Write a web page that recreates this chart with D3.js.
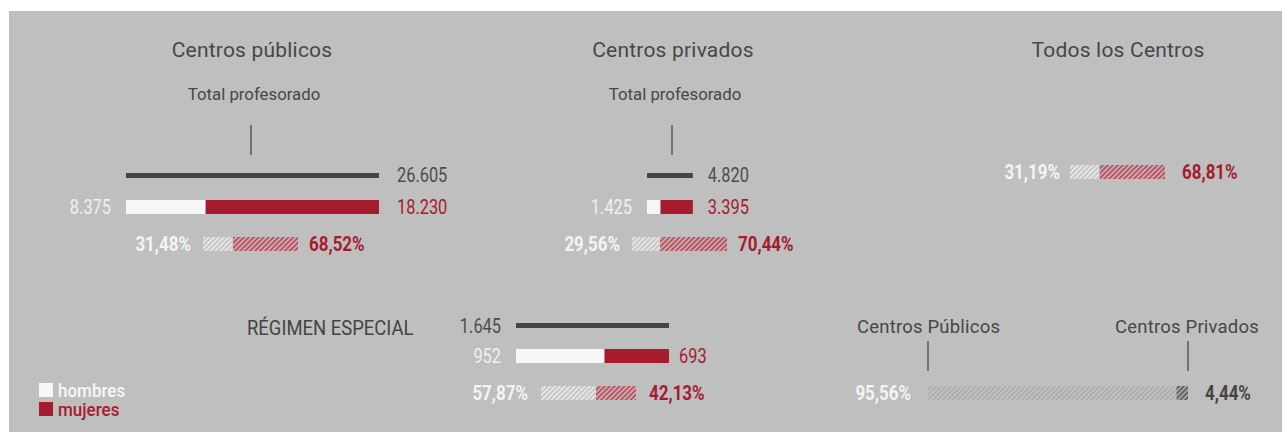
<!DOCTYPE html>
<html><head><meta charset="utf-8">
<script src="https://cdn.jsdelivr.net/npm/d3@7"></script>
<style>
html,body{margin:0;padding:0;background:#fff;}
svg{display:block;}
.title{font-family:Roboto,"Liberation Sans",sans-serif;fill:#474747;}
.num{font-family:Roboto,"Liberation Sans",sans-serif;}
</style></head>
<body>
<script>
// ---- data ----
const sectionTitles = ["Centros públicos", "Centros privados"];
const totals = [26605, 4820];
const hombres = [8375, 1425];
const mujeres = [18230, 3395];
const pctHombres = [31.48, 29.56];
const pctMujeres = [68.52, 70.44];
const todosTitle = "Todos los Centros";
const todosPct = [31.19, 68.81];
const especialTitle = "RÉGIMEN ESPECIAL";
const especialTotal = [1645];
const especialHombres = [952];
const especialMujeres = [693];
const especialPct = [57.87, 42.13];
const distribLabels = ["Centros Públicos", "Centros Privados"];
const distribPct = [95.56, 4.44];
const legendLabels = ["hombres", "mujeres"];
const subLabel = "Total profesorado";

// ---- setup ----
const W = 1282, H = 432;
const RED = "#a41c2e", DARK = "#454545", WHITE = "#f7f7f7", BG = "#bfbfbf", TXT = "#4a4a4a";
const loc = d3.formatLocale({decimal: ",", thousands: ".", grouping: [3], currency: ["", "€"]});
const fInt = loc.format(",d");
const fPct = v => loc.format(".2f")(v) + "%";

const svg = d3.select("body").append("svg").attr("width", W).attr("height", H);
svg.append("rect").attr("x", 9).attr("y", 11).attr("width", W - 9).attr("height", H - 11).attr("fill", BG);

const defs = svg.append("defs");
function hatch(id, line, bg, sw) {
  const p = defs.append("pattern").attr("id", id).attr("patternUnits", "userSpaceOnUse")
    .attr("width", 3.5).attr("height", 3.5).attr("patternTransform", "rotate(45)");
  p.append("rect").attr("width", 3.5).attr("height", 3.5).attr("fill", bg);
  p.append("rect").attr("width", sw).attr("height", 3.5).attr("fill", line);
}
hatch("hW", "#f0f0f0", "#c6c6c6", 1.3);
hatch("hR", "#b53a4c", "#c9abb0", 1.4);
hatch("hG", "#a9a9a9", "#c2c2c2", 1.5);
hatch("hD", "#555555", "#a5a5a5", 1.5);

const xMain = d3.scaleLinear().domain([0, totals[0]]).range([0, 253]);
const xPct = d3.scaleLinear().domain([0, 100]).range([0, 95]);
const xEsp = d3.scaleLinear().domain([0, especialTotal[0]]).range([0, 153]);
const xDist = d3.scaleLinear().domain([0, 100]).range([0, 260]);

function text(x, y, s, opt) {
  const sx = opt.sx || 1;
  return svg.append("text").attr("x", 0).attr("y", 0)
    .attr("transform", `translate(${x},${y}) scale(${sx},1)`)
    .text(s)
    .attr("class", opt.cls || "num")
    .attr("font-size", opt.size || 19.5)
    .attr("font-weight", opt.weight || "normal")
    .attr("letter-spacing", opt.ls || 0)
    .attr("text-anchor", opt.anchor || "start")
    .attr("fill", opt.fill || TXT);
}
const NSX = 0.84, PSX = 0.87;

function pctBar(x0, y, pcts, scale, fills) {
  let acc = 0;
  svg.selectAll(null).data(pcts).enter().append("rect")
    .attr("x", d => { const v = x0 + scale(acc); acc += d; return v; })
    .attr("y", y).attr("height", 14)
    .attr("width", d => scale(d))
    .attr("fill", (d, i) => fills[i]);
}

// ---- public / private sections ----
const secX0 = [126, 647];
const secCenter = [252, 673];
const pctX = [203, 632];
const labelGap = [18, 15];
sectionTitles.forEach((t, i) => {
  const x0 = secX0[i];
  text(secCenter[i], 57, t, {cls: "title", size: 21, anchor: "middle", ls: 0.2});
  text(secCenter[i] + 2, 100, subLabel, {cls: "title", size: 16.8, anchor: "middle", fill: "#3f3f3f"});
  svg.append("line").attr("x1", secCenter[i] - 1).attr("x2", secCenter[i] - 1)
    .attr("y1", 125).attr("y2", 155).attr("stroke", "#4a4a4a").attr("stroke-width", 1.3);
  // total
  svg.append("rect").attr("x", x0).attr("y", 173).attr("height", 5)
    .attr("width", xMain(totals[i])).attr("fill", DARK);
  text(x0 + xMain(totals[i]) + labelGap[i], 182, fInt(totals[i]), {fill: "#4d4d4d", sx: NSX});
  // hombres/mujeres
  svg.append("rect").attr("x", x0).attr("y", 200).attr("height", 14)
    .attr("width", xMain(hombres[i])).attr("fill", WHITE);
  svg.append("rect").attr("x", x0 + xMain(hombres[i])).attr("y", 200).attr("height", 14)
    .attr("width", xMain(mujeres[i])).attr("fill", RED);
  text(x0 - 15, 214, fInt(hombres[i]), {anchor: "end", fill: "#f0f0f0", sx: NSX});
  text(x0 + xMain(totals[i]) + labelGap[i], 214, fInt(mujeres[i]), {fill: RED, sx: NSX});
  // pct
  pctBar(pctX[i], 237, [pctHombres[i], pctMujeres[i]], xPct, ["url(#hW)", "url(#hR)"]);
  text(pctX[i] - 12, 251, fPct(pctHombres[i]), {anchor: "end", fill: "#f4f4f4", weight: "bold", sx: PSX});
  text(pctX[i] + xPct(100) + 11, 251, fPct(pctMujeres[i]), {fill: RED, weight: "bold", sx: PSX});
});

// ---- todos ----
text(1118, 57, todosTitle, {cls: "title", size: 21, anchor: "middle", ls: 0.2});
pctBar(1070, 165, todosPct, xPct, ["url(#hW)", "url(#hR)"]);
text(1060, 179, fPct(todosPct[0]), {anchor: "end", fill: "#f4f4f4", weight: "bold", sx: PSX});
text(1182, 179, fPct(todosPct[1]), {fill: RED, weight: "bold", sx: PSX});

// ---- régimen especial ----
text(247, 335, especialTitle, {size: 20.5, fill: "#444", sx: 0.9});
const ex0 = 516;
svg.append("rect").attr("x", ex0).attr("y", 323).attr("height", 5)
  .attr("width", xEsp(especialTotal[0])).attr("fill", DARK);
text(ex0 - 15, 333, fInt(especialTotal[0]), {anchor: "end", fill: "#4d4d4d", sx: NSX});
svg.append("rect").attr("x", ex0).attr("y", 349).attr("height", 14)
  .attr("width", xEsp(especialHombres[0])).attr("fill", WHITE);
svg.append("rect").attr("x", ex0 + xEsp(especialHombres[0])).attr("y", 349).attr("height", 14)
  .attr("width", xEsp(especialMujeres[0])).attr("fill", RED);
text(ex0 - 15, 363, fInt(especialHombres[0]), {anchor: "end", fill: "#f0f0f0", sx: NSX});
text(ex0 + xEsp(especialTotal[0]) + 10, 363, fInt(especialMujeres[0]), {fill: RED, sx: NSX});
pctBar(541, 386, especialPct, xPct, ["url(#hW)", "url(#hR)"]);
text(528, 400, fPct(especialPct[0]), {anchor: "end", fill: "#f4f4f4", weight: "bold", sx: PSX});
text(649, 400, fPct(especialPct[1]), {fill: RED, weight: "bold", sx: PSX});

// ---- distribution ----
const dx0 = 928;
text(857, 333, distribLabels[0], {cls: "title", size: 18.5, fill: "#3f3f3f", ls: 0.2});
text(1259, 333, distribLabels[1], {cls: "title", size: 18.5, anchor: "end", fill: "#3f3f3f", ls: 0.2});
[0, 100].forEach(v => {
  svg.append("line").attr("x1", dx0 + xDist(v)).attr("x2", dx0 + xDist(v))
    .attr("y1", 341).attr("y2", 371).attr("stroke", "#4a4a4a").attr("stroke-width", 1.3);
});
pctBar(dx0, 386, distribPct, xDist, ["url(#hG)", "url(#hD)"]);
text(911, 400, fPct(distribPct[0]), {anchor: "end", fill: "#f4f4f4", weight: "bold", sx: PSX});
text(1205, 400, fPct(distribPct[1]), {fill: "#454545", weight: "bold", sx: PSX});

// ---- legend ----
const legFill = [WHITE, RED];
const legTxt = ["#f7f7f7", RED];
legendLabels.forEach((l, i) => {
  svg.append("rect").attr("x", 39).attr("y", 383 + i * 19).attr("width", 14).attr("height", 14).attr("fill", legFill[i]);
  text(58, 397 + i * 19, l, {size: 18.5, fill: legTxt[i], sx: 0.92, weight: 500});
});
</script>
</body></html>
